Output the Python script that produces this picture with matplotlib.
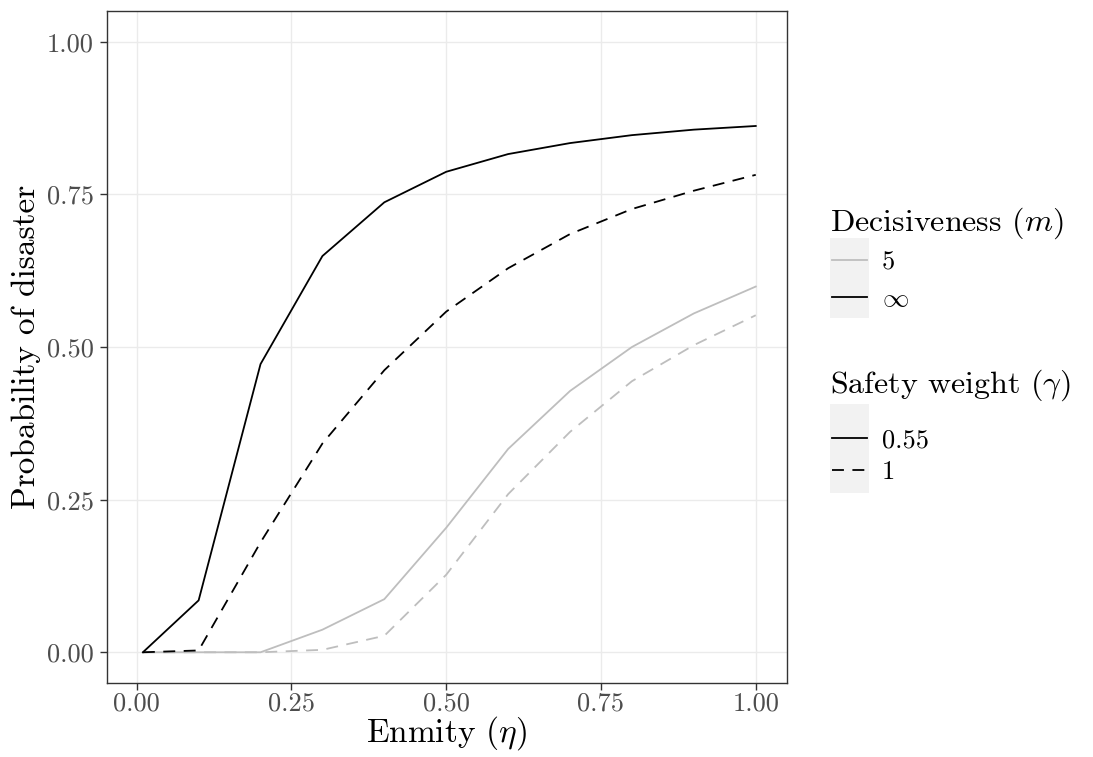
import matplotlib
matplotlib.use("Agg")
import matplotlib.pyplot as plt
from matplotlib.lines import Line2D
from matplotlib.patches import Rectangle

plt.rcParams['font.family'] = 'serif'
plt.rcParams['font.serif'] = ['cmr10']
plt.rcParams['mathtext.fontset'] = 'cm'
plt.rcParams['axes.unicode_minus'] = False

# ---- data ----
eta = [0.01, 0.1, 0.2, 0.3, 0.4, 0.5, 0.6, 0.7, 0.8, 0.9, 1.0]
p_minf_g055 = [0.0, 0.085, 0.472, 0.649, 0.737, 0.787, 0.816, 0.834, 0.847, 0.856, 0.862]
p_minf_g1 = [0.0, 0.003, 0.180, 0.342, 0.462, 0.558, 0.629, 0.685, 0.726, 0.756, 0.782]
p_m5_g055 = [0.0, 0.0, 0.0, 0.037, 0.087, 0.204, 0.333, 0.428, 0.500, 0.555, 0.599]
p_m5_g1 = [0.0, 0.0, 0.0, 0.004, 0.027, 0.127, 0.259, 0.361, 0.444, 0.503, 0.552]

x_ticks = [0.0, 0.25, 0.5, 0.75, 1.0]
x_ticklabels = ['0.00', '0.25', '0.50', '0.75', '1.00']
y_ticks = [0.0, 0.25, 0.5, 0.75, 1.0]
y_ticklabels = ['0.00', '0.25', '0.50', '0.75', '1.00']

m_labels = ['5', r'$\infty$']
gamma_labels = ['0.55', '1']

# ---- style ----
W, H = 1093, 757
GRAY = '#BEBEBE'
BLACK = '#000000'
LW = 1.3
DASH = (0, (6.6, 4.7))

fig = plt.figure(figsize=(W / 100, H / 100), dpi=100)
L, R, T, B = 106.7, 786.7, 11.2, 682.8
ax = fig.add_axes([L / W, 1 - B / H, (R - L) / W, (B - T) / H])

series = [
    (p_m5_g055, GRAY, '-'),
    (p_m5_g1, GRAY, DASH),
    (p_minf_g055, BLACK, '-'),
    (p_minf_g1, BLACK, DASH),
]
for vals, col, ls in series:
    ax.plot(eta, vals, color=col, lw=LW, ls=ls, solid_joinstyle='round')

ax.set_xlim(-0.0485, 1.05)
ax.set_ylim(-0.05, 1.05)
ax.set_xticks(x_ticks)
ax.set_xticklabels(x_ticklabels)
ax.set_yticks(y_ticks)
ax.set_yticklabels(y_ticklabels)
ax.grid(True, color='#EBEBEB', lw=1.0)
ax.set_axisbelow(True)
for s in ax.spines.values():
    s.set_color('#333333')
    s.set_linewidth(1.0)
ax.tick_params(axis='both', length=5, width=1.0, color='#333333',
               labelcolor='#4D4D4D', labelsize=19)
ax.tick_params(axis='x', pad=1.5)
ax.tick_params(axis='y', pad=4.5)

ax.set_xlabel(r'Enmity ($\eta$)', fontsize=24)
ax.set_ylabel('Probability of disaster', fontsize=24)
ax.xaxis.set_label_coords(0.5, -(714 - B) / (B - T))
ax.yaxis.set_label_coords(-(L - 41) / (R - L), 0.5)


def fx(px):
    return px / W


def fy(py):
    return 1 - py / H


# ---- legends (drawn manually, ggplot style) ----
def legend_block(title, title_base, box_top, box_bot, line_ys, labels, styles):
    fig.text(fx(830), fy(title_base), title, fontsize=23, ha='left', va='baseline')
    fig.patches.append(Rectangle((fx(830), fy(box_bot)), fx(869) - fx(830),
                                 fy(box_top) - fy(box_bot), transform=fig.transFigure,
                                 facecolor='#F2F2F2', edgecolor='none'))
    for y, lab, (col, ls) in zip(line_ys, labels, styles):
        fig.lines.append(Line2D([fx(832), fx(867)], [fy(y), fy(y)], transform=fig.transFigure,
                                color=col, lw=LW, ls=ls))
        fig.text(fx(882), fy(y), lab, fontsize=19, ha='left', va='center_baseline')


legend_block(r'Decisiveness ($m$)', 231, 238, 318, [260, 297], m_labels,
             [(GRAY, '-'), (BLACK, '-')])
legend_block(r'Safety weight ($\gamma$)', 393, 404, 493, [438, 470], gamma_labels,
             [(BLACK, '-'), (BLACK, DASH)])

fig.savefig('out.png', dpi=100)
